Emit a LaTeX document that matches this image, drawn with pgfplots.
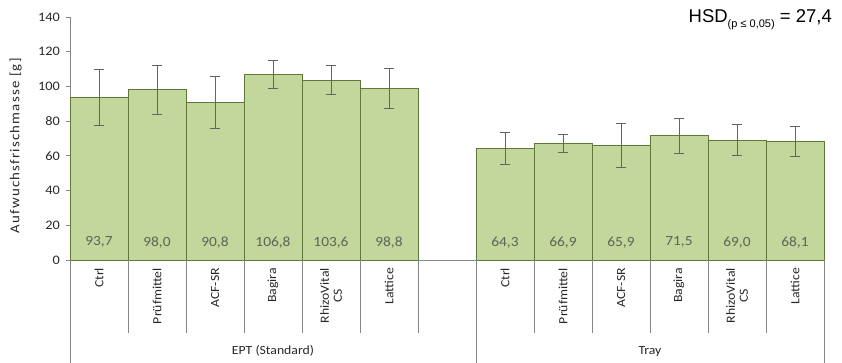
\documentclass[border=0pt]{standalone}
\usepackage{fontspec}
\setmainfont{Carlito}[FakeStretch=1.1]
\newfontfamily\ylabfont{Carlito}[FakeStretch=1.1, LetterSpace=9]
\newfontfamily\arial{Liberation Sans}
\usepackage{pgfplots}
\usepackage{pgfplotstable}
\pgfplotsset{compat=1.18}
\definecolor{barfill}{RGB}{195,214,155}
\definecolor{baredge}{RGB}{95,120,55}
\definecolor{axgray}{RGB}{134,134,134}
\definecolor{errgray}{RGB}{100,100,100}
\definecolor{txt}{RGB}{40,40,40}
\definecolor{vtxt}{RGB}{95,100,85}

\pgfplotstableread{
x y err ly lab
0 93.7 16.3 10.2 93,7
1 98.0 14.0 10.2 98,0
2 90.8 15.2 10.2 90,8
3 106.8 8.2 10.2 106,8
4 103.6 8.2 10.2 103,6
5 98.8 11.5 10.2 98,8
7 64.3 9.2 10.2 64,3
8 66.9 5.2 10.2 66,9
9 65.9 12.5 10.2 65,9
10 71.5 10.0 10.2 71,5
11 69.0 9.0 10.2 69,0
12 68.1 8.6 10.2 68,1
}\data

\begin{document}
\begin{tikzpicture}[x=1pt,y=1pt]
\useasboundingbox (0,0) rectangle (842,363);
\begin{axis}[
  at={(70pt,103pt)}, anchor=south west,
  scale only axis, width=754pt, height=243pt,
  xmin=-0.5, xmax=12.5, ymin=0, ymax=140,
  axis lines*=left,
  axis line style={axgray, line width=0.8pt},
  ytick={0,20,...,140},
  tick align=outside, major tick length=4.5pt,
  y tick style={axgray, line width=0.8pt},
  xtick={0,...,12},
  xticklabels={Ctrl,Prüfmittel,ACF-SR,Bagira,{RhizoVital\\CS},Lattice,{},Ctrl,Prüfmittel,ACF-SR,Bagira,{RhizoVital\\CS},Lattice},
  x tick style={draw=none},
  xticklabel style={rotate=90, anchor=east, align=center, xshift=0pt,
    font=\fontsize{12.5}{13}\selectfont, text=txt},
  yticklabel style={font=\fontsize{13}{13}\selectfont, text=txt, xshift=-2pt},
  /pgf/number format/assume math mode=true,
  ylabel={Aufwuchsfrischmasse [g]},
  ylabel style={at={(axis description cs:-0.072,0.47)}, anchor=center,
    font=\ylabfont\fontsize{13.5}{14}\selectfont, text=txt},
  clip=false,
]
\addplot[ybar, bar width=1, fill=barfill, draw=baredge, line width=0.9pt,
  error bars/.cd, y dir=both, y explicit,
  error bar style={color=errgray, line width=1pt},
  error mark options={rotate=90, mark size=5pt, line width=1pt, color=errgray}]
  table[x=x, y=y, y error=err]{\data};
\addplot[draw=none, mark=none,
  nodes near coords, point meta=explicit symbolic,
  nodes near coords style={anchor=center, font=\fontsize{14}{14}\selectfont, text=vtxt}]
  table[x=x, y=ly, meta=lab]{\data};
\pgfplotsinvokeforeach{0.5,1.5,2.5,3.5,4.5,5.5,7.5,8.5,9.5,10.5,11.5}{
  \draw[axgray, line width=0.8pt] (axis cs:#1,0) -- ++(0pt,-73pt);
}
\pgfplotsinvokeforeach{-0.5,6.5,12.5}{
  \draw[axgray, line width=0.8pt] (axis cs:#1,0) -- ++(0pt,-103pt);
}
\node[anchor=base, font=\fontsize{12.5}{13}\selectfont, text=txt] at (axis cs:3,0) [yshift=-95pt] {EPT (Standard)};
\node[anchor=base, font=\fontsize{12.5}{13}\selectfont, text=txt] at (axis cs:9.5,0) [yshift=-95pt] {Tray};
\end{axis}
\node[anchor=base east, inner sep=0pt, font=\arial\fontsize{18.5}{20}\selectfont] at (832,340.3)
  {HSD\raisebox{-5.3pt}{\fontsize{11}{11}\selectfont (p ≤ 0,05)} = 27,4};
\end{tikzpicture}
\end{document}
